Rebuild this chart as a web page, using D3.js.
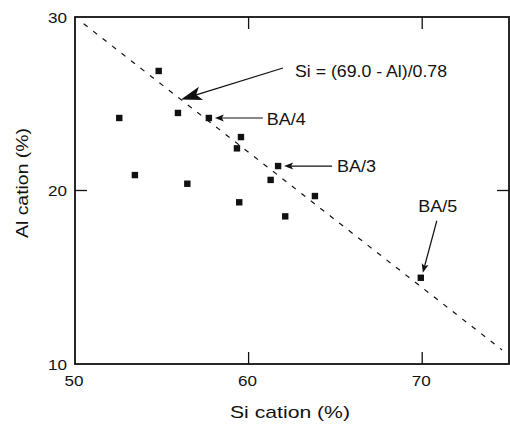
<!DOCTYPE html>
<html>
<head>
<meta charset="utf-8">
<script src="https://cdn.jsdelivr.net/npm/d3@7"></script>
<style>
  html, body { margin: 0; padding: 0; background: #fff; }
  svg { display: block; }
  text { font-family: "Liberation Sans", Arial, Helvetica, sans-serif; fill: #111; }
</style>
</head>
<body>
<svg id="chart" width="510" height="427"></svg>
<script>
// Cation composition of the samples (%)
const siValues = [54.82, 52.55, 55.93, 57.71, 59.56, 59.33, 61.70, 61.27, 63.82, 56.47, 53.45, 59.46, 62.11, 69.92];
const alValues = [26.89, 24.18, 24.47, 24.18, 23.08, 22.43, 21.41, 20.61, 19.68, 20.39, 20.89, 19.32, 18.51, 14.97];
const sampleNames = ["", "", "", "BA/4", "", "", "BA/3", "", "", "", "", "", "", "BA/5"];

// Axis ticks
const xTicks = [50, 60, 70];
const yTicks = [10, 20, 30];
const xDomain = [50, 75];
const yDomain = [10, 30];

// Reference line Si = (69.0 - Al)/0.78, i.e. Al = 69.0 - 0.78*Si
const lineIntercept = 69.0;
const lineSlope = 0.78;
const lineSiRange = [50.5, 74.6];
const lineLabel = "Si = (69.0 - Al)/0.78";
const lineArrowSi = 56.1;

const svg = d3.select("#chart");
const plot = { left: 75, top: 17, right: 509, bottom: 364 };

const x = d3.scaleLinear().domain(xDomain).range([plot.left, plot.right]);
const y = d3.scaleLinear().domain(yDomain).range([plot.bottom, plot.top]);

const ink = "#111";

// Frame
svg.append("rect")
  .attr("x", plot.left).attr("y", plot.top)
  .attr("width", plot.right - plot.left).attr("height", plot.bottom - plot.top)
  .attr("fill", "none").attr("stroke", ink).attr("stroke-width", 1.8);

// Inward ticks on all four sides
const tickLen = 12;
const innerX = xTicks.filter(v => v > xDomain[0] && v < xDomain[1]);
const innerY = yTicks.filter(v => v > yDomain[0] && v < yDomain[1]);
const tickG = svg.append("g").attr("stroke", ink).attr("stroke-width", 1.3);
innerX.forEach(v => {
  tickG.append("line").attr("x1", x(v)).attr("x2", x(v)).attr("y1", plot.bottom).attr("y2", plot.bottom - tickLen);
  tickG.append("line").attr("x1", x(v)).attr("x2", x(v)).attr("y1", plot.top).attr("y2", plot.top + tickLen);
});
innerY.forEach(v => {
  tickG.append("line").attr("x1", plot.left).attr("x2", plot.left + tickLen).attr("y1", y(v)).attr("y2", y(v));
  tickG.append("line").attr("x1", plot.right).attr("x2", plot.right - tickLen).attr("y1", y(v)).attr("y2", y(v));
});

// Tick labels
svg.append("g").selectAll("text").data(xTicks).join("text")
  .attr("x", d => x(d) - 1).attr("y", 386)
  .attr("text-anchor", "middle")
  .attr("font-size", 15.5)
  .attr("textLength", 19).attr("lengthAdjust", "spacingAndGlyphs")
  .text(d => d);

svg.append("g").selectAll("text").data(yTicks).join("text")
  .attr("x", 67).attr("y", d => y(d) + 5.5)
  .attr("text-anchor", "end")
  .attr("font-size", 15.5)
  .attr("textLength", 19).attr("lengthAdjust", "spacingAndGlyphs")
  .text(d => d);

// Axis titles
svg.append("text")
  .attr("x", 290).attr("y", 418)
  .attr("text-anchor", "middle")
  .attr("font-size", 17)
  .attr("textLength", 120).attr("lengthAdjust", "spacingAndGlyphs")
  .text("Si cation (%)");

svg.append("text")
  .attr("transform", "translate(28,183) rotate(-90)")
  .attr("text-anchor", "middle")
  .attr("font-size", 16.5)
  .attr("textLength", 110).attr("lengthAdjust", "spacingAndGlyphs")
  .text("Al cation (%)");

// Dashed reference line
const lineAl = si => lineIntercept - lineSlope * si;
svg.append("line")
  .attr("x1", x(lineSiRange[0])).attr("y1", y(lineAl(lineSiRange[0])))
  .attr("x2", x(lineSiRange[1])).attr("y2", y(lineAl(lineSiRange[1])))
  .attr("stroke", ink).attr("stroke-width", 1.2)
  .attr("stroke-dasharray", "5,7");

// Sample markers
const pts = siValues.map((s, i) => ({ si: s, al: alValues[i], name: sampleNames[i] }));
svg.append("g").selectAll("rect").data(pts).join("rect")
  .attr("x", d => x(d.si) - 3.2).attr("y", d => y(d.al) - 3.2)
  .attr("width", 6.4).attr("height", 6.4)
  .attr("fill", ink);

// Arrow helper: shaft from tail to tip plus a filled barbed head
function arrow(x1, y1, x2, y2, headLen, headHalf, notch, width) {
  const ang = Math.atan2(y2 - y1, x2 - x1);
  const ux = Math.cos(ang), uy = Math.sin(ang);
  const px = -uy, py = ux;
  const bx = x2 - ux * headLen, by = y2 - uy * headLen;
  const nx = x2 - ux * (headLen - notch), ny = y2 - uy * (headLen - notch);
  svg.append("line")
    .attr("x1", x1).attr("y1", y1).attr("x2", nx).attr("y2", ny)
    .attr("stroke", ink).attr("stroke-width", width);
  svg.append("path")
    .attr("d", d3.line()([[x2, y2], [bx + px * headHalf, by + py * headHalf], [nx, ny], [bx - px * headHalf, by - py * headHalf]]) + "Z")
    .attr("fill", ink);
}

// Reference line label with its arrow
const tipX = x(lineArrowSi), tipY = y(lineAl(lineArrowSi));
arrow(283, 68, tipX, tipY, 21, 7, 5, 1.3);
svg.append("text")
  .attr("x", 295).attr("y", 76.5)
  .attr("font-size", 16.5)
  .attr("textLength", 152).attr("lengthAdjust", "spacingAndGlyphs")
  .text(lineLabel);

// Sample labels: offsets of label and arrow tail from each marker
const labelLayout = {
  "BA/4": { tx: 58, ty: 7, ax: 54, ay: 0, anchor: "start", tipDx: 6, tipDy: 0 },
  "BA/3": { tx: 59, ty: 6, ax: 54, ay: 0, anchor: "start", tipDx: 6, tipDy: 0 },
  "BA/5": { tx: 17, ty: -66, ax: 16, ay: -57, anchor: "middle", tipDx: 2, tipDy: -5 }
};
pts.filter(d => d.name).forEach(d => {
  const L = labelLayout[d.name];
  const px = x(d.si), py = y(d.al);
  arrow(px + L.ax, py + L.ay, px + L.tipDx, py + L.tipDy, 9, 3.5, 2, 1.2);
  svg.append("text")
    .attr("x", px + L.tx).attr("y", py + L.ty)
    .attr("text-anchor", L.anchor)
    .attr("font-size", 16.5)
    .attr("textLength", 39).attr("lengthAdjust", "spacingAndGlyphs")
    .text(d.name);
});
</script>
</body>
</html>
